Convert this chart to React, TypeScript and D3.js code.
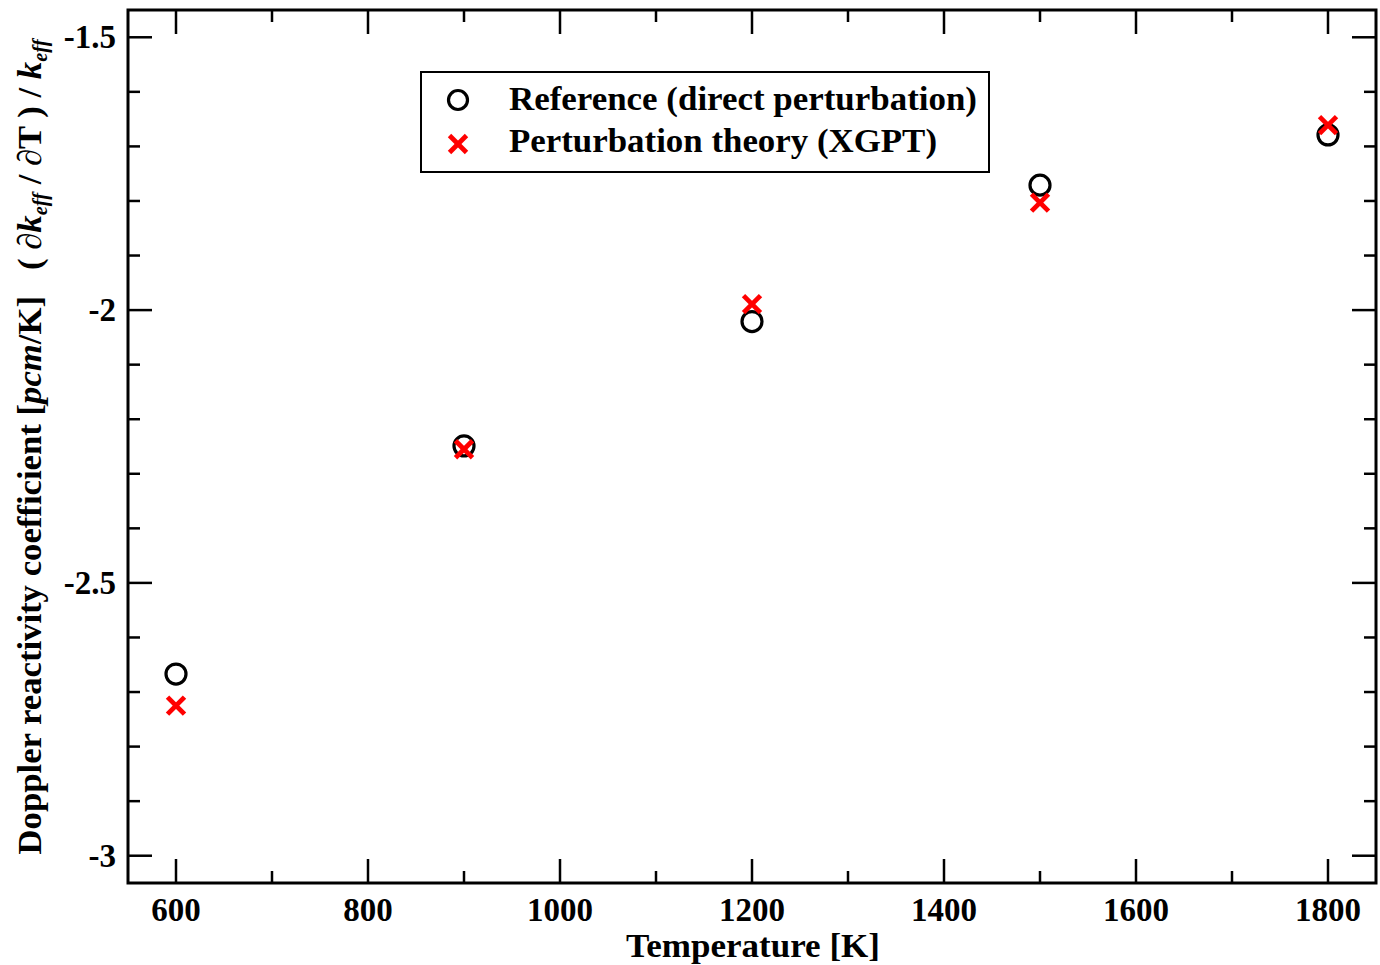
import React from "react";
import * as d3 from "d3";

const temperatures = [600, 900, 1200, 1500, 1800];
const referenceValues = [-2.667, -2.249, -2.021, -1.771, -1.679];
const xgptValues = [-2.725, -2.255, -1.989, -1.803, -1.661];
const xMajorTicks = [600, 800, 1000, 1200, 1400, 1600, 1800];
const xMinorTicks = [700, 900, 1100, 1300, 1500, 1700];
const yMajorTicks = [-3, -2.5, -2, -1.5];
const yMinorTicks = [-2.9, -2.8, -2.7, -2.6, -2.4, -2.3, -2.2, -2.1, -1.9, -1.8, -1.7, -1.6];
const yTickLabels = ["-3", "-2.5", "-2", "-1.5"];
const legendLabels = ["Reference (direct perturbation)", "Perturbation theory (XGPT)"];

const W = 1380, H = 965;
const L = 128, R = 1376, T = 10, B = 883;
const FONT = "'Liberation Serif', 'Times New Roman', serif";

export default function App() {
  const x = d3.scaleLinear().domain([550, 1850]).range([L, R]);
  const y = d3.scaleLinear().domain([-3.05, -1.45]).range([B, T]);
  const maj = 24, min = 12;

  const cross = (cx: number, cy: number, s: number, key: string) => (
    <g key={key} stroke="#ff0000" strokeWidth={4.8}>
      <line x1={cx - s} y1={cy - s} x2={cx + s} y2={cy + s} />
      <line x1={cx - s} y1={cy + s} x2={cx + s} y2={cy - s} />
    </g>
  );

  return (
    <svg width={W} height={H} style={{ position: "absolute", left: 0, top: 0 }} fontFamily={FONT} fontWeight="bold">
      <rect x={0} y={0} width={W} height={H} fill="white" />
      <g stroke="black" strokeWidth={2.5}>
        {xMajorTicks.map((t) => (
          <g key={"xm" + t}>
            <line x1={x(t)} x2={x(t)} y1={B} y2={B - maj} />
            <line x1={x(t)} x2={x(t)} y1={T} y2={T + maj} />
          </g>
        ))}
        {xMinorTicks.map((t) => (
          <g key={"xn" + t}>
            <line x1={x(t)} x2={x(t)} y1={B} y2={B - min} />
            <line x1={x(t)} x2={x(t)} y1={T} y2={T + min} />
          </g>
        ))}
        {yMajorTicks.map((t) => (
          <g key={"ym" + t}>
            <line x1={L} x2={L + maj} y1={y(t)} y2={y(t)} />
            <line x1={R} x2={R - maj} y1={y(t)} y2={y(t)} />
          </g>
        ))}
        {yMinorTicks.map((t) => (
          <g key={"yn" + t}>
            <line x1={L} x2={L + min} y1={y(t)} y2={y(t)} />
            <line x1={R} x2={R - min} y1={y(t)} y2={y(t)} />
          </g>
        ))}
      </g>
      <rect x={L} y={T} width={R - L} height={B - T} fill="none" stroke="black" strokeWidth={3} />
      {xMajorTicks.map((t) => (
        <text key={"xl" + t} x={x(t)} y={921} textAnchor="middle" fontSize={33}>{t}</text>
      ))}
      {yMajorTicks.map((t, i) => (
        <text key={"yl" + t} x={116} y={y(t) + 11} textAnchor="end" fontSize={33}>{yTickLabels[i]}</text>
      ))}
      <text x={753} y={957} textAnchor="middle" fontSize={34} textLength={254} lengthAdjust="spacingAndGlyphs">Temperature [K]</text>
      <text transform={`translate(41, 447) rotate(-90)`} textAnchor="middle" fontSize={34} textLength={815} lengthAdjust="spacingAndGlyphs">
        Doppler reactivity coefficient [<tspan fontStyle="italic">pcm</tspan>/K]{"\u00A0\u00A0\u00A0"}( ∂<tspan fontStyle="italic">k</tspan>
        <tspan fontStyle="italic" fontSize={20} dy={6}>eff</tspan>
        <tspan dy={-6}> / ∂T ) / </tspan><tspan fontStyle="italic">k</tspan>
        <tspan fontStyle="italic" fontSize={20} dy={6}>eff</tspan>
      </text>
      {temperatures.map((t, i) => (
        <circle key={"c" + t} cx={x(t)} cy={y(referenceValues[i])} r={10} fill="none" stroke="black" strokeWidth={3.2} />
      ))}
      {temperatures.map((t, i) => cross(x(t), y(xgptValues[i]), 8.5, "x" + t))}
      <rect x={421} y={72} width={568} height={100} fill="white" stroke="black" strokeWidth={2} />
      <circle cx={458} cy={100} r={9.5} fill="none" stroke="black" strokeWidth={3.2} />
      {cross(458, 144, 8.5, "lx")}
      <text x={509} y={110} fontSize={34} textLength={468} lengthAdjust="spacingAndGlyphs">{legendLabels[0]}</text>
      <text x={509} y={152} fontSize={34} textLength={428} lengthAdjust="spacingAndGlyphs">{legendLabels[1]}</text>
    </svg>
  );
}
